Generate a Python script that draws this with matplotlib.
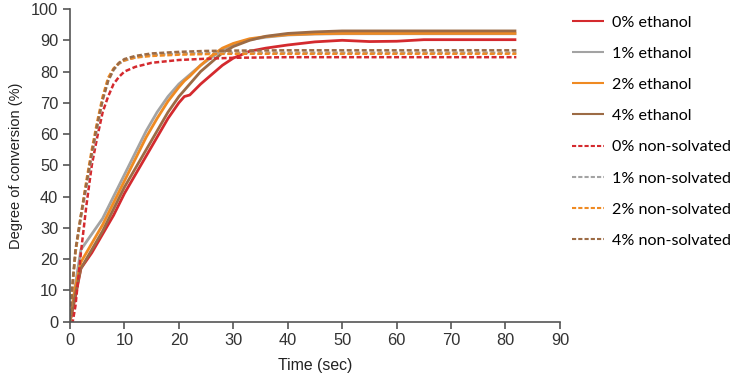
import matplotlib
matplotlib.use('Agg')
import matplotlib.pyplot as plt

# time points (sec) and degree of conversion (%)
t_eth = [0, 1, 2, 4, 6, 8, 10, 12, 14, 16, 18, 20, 21, 22, 24, 26, 28, 30, 33, 36, 40, 45, 50, 55, 60, 65, 70, 75, 82]
eth_0 = [0, 8, 17, 22, 28, 34, 41, 47, 53, 59, 65, 70, 72, 72.5, 76, 79, 82, 84.3, 86.5, 87.5, 88.5, 89.5, 90, 89.6, 89.7, 90.2, 90.2, 90.2, 90.2]
eth_1 = [0, 12, 23, 28, 33, 40, 47, 54, 61, 67, 72, 76, 77.5, 79, 82, 84.5, 87, 88.8, 90.2, 91, 91.7, 92, 92.1, 92.1, 92.1, 92.1, 92.1, 92.1, 92.1]
eth_2 = [0, 11, 19, 25, 31, 38, 45, 52, 59, 65, 70.5, 75, 77, 78.5, 82, 85, 87.5, 89, 90.5, 91.2, 91.8, 92.1, 92.2, 92.2, 92.2, 92.2, 92.2, 92.2, 92.2]
eth_4 = [0, 9, 17, 23, 29, 36, 43, 49, 55, 61, 67, 72, 74, 76, 80, 83, 86, 88, 90, 91.3, 92.2, 92.7, 93, 93, 93, 93, 93, 93, 93]

t_non = [0, 0.5, 1, 2, 3, 4, 5, 6, 7, 8, 9, 10, 12, 15, 20, 25, 30, 40, 50, 60, 70, 82]
non_0 = [0, 0, 5, 22, 37, 50, 59, 67, 72, 76, 78.3, 80, 81.5, 82.8, 83.7, 84.1, 84.4, 84.6, 84.6, 84.6, 84.6, 84.6]
non_1 = [0, 12, 22, 33, 43, 53, 62, 71, 77, 80.5, 82.5, 83.5, 84.5, 85.3, 85.7, 85.9, 86, 86, 86, 86, 86, 86]
non_2 = [0, 12, 22, 34, 45, 55, 64, 72, 78, 81, 82.7, 83.6, 84.5, 85, 85.4, 85.6, 85.7, 85.7, 85.7, 85.7, 85.7, 85.7]
non_4 = [0, 13, 23, 34, 44, 54, 63, 71, 77, 80.7, 82.8, 84, 85, 85.8, 86.3, 86.6, 86.7, 86.8, 86.8, 86.8, 86.8, 86.8]

RED = '#d42a2e'
GRAY = '#a3a3a3'
ORANGE = '#ef8a22'
BROWN = '#9c6b45'


def main():
    plt.rcParams['font.family'] = ['Liberation Sans', 'DejaVu Sans']
    fig = plt.figure(figsize=(7.4, 3.77), dpi=100)
    ax = fig.add_axes([0.0946, 0.147, 0.662, 0.829])

    lines = []
    for y, c, lab in [(eth_0, RED, '0% ethanol'), (eth_1, GRAY, '1% ethanol'),
                      (eth_2, ORANGE, '2% ethanol'), (eth_4, BROWN, '4% ethanol')]:
        ln, = ax.plot(t_eth, y, color=c, lw=2, label=lab, solid_capstyle='butt')
        lines.append(ln)
    for y, c, lab in [(non_0, RED, '0% non-solvated'), (non_1, GRAY, '1% non-solvated'),
                      (non_2, ORANGE, '2% non-solvated'), (non_4, BROWN, '4% non-solvated')]:
        ln, = ax.plot(t_non, y, color=c, lw=1.8, ls=(0, (2, 1)), label=lab)
        lines.append(ln)

    ax.set_xlim(0, 90)
    ax.set_ylim(0, 100)
    ax.set_xticks(range(0, 91, 10))
    ax.set_yticks(range(0, 101, 10))
    for s in ['top', 'right']:
        ax.spines[s].set_visible(False)
    for s in ['left', 'bottom']:
        ax.spines[s].set_color('#555555')
        ax.spines[s].set_linewidth(1.2)
    ax.tick_params(colors='#555555', length=5, width=1.2, labelsize=11.8, labelcolor='#333333')
    ax.set_xlabel('Time (sec)', fontsize=11.4, color='#222222', labelpad=7)
    ax.set_ylabel('Degree of conversion (%)', fontsize=10.5, color='#222222', labelpad=6)

    leg = fig.legend(handles=lines, loc='upper left', bbox_to_anchor=(0.753, 0.998),
                     frameon=False, handlelength=2.0, handletextpad=0.5,
                     labelspacing=1.05, prop={'family': 'Lato', 'size': 11.6})
    for h in leg.legend_handles:
        h.set_linewidth(1.5)

    fig.savefig('out.png', dpi=100)


if __name__ == "__main__":
    main()
